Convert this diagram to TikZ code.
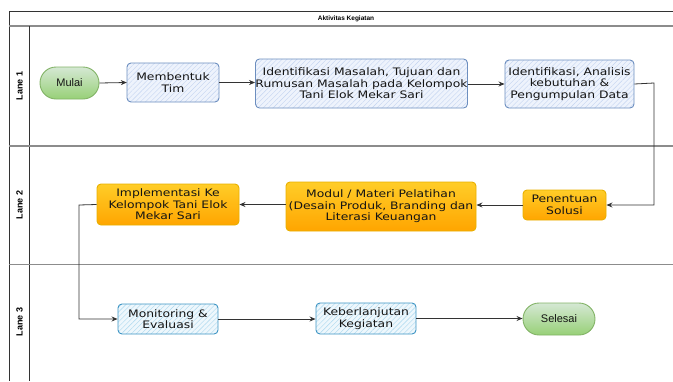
\documentclass[tikz,border=0pt]{standalone}
\usepackage{fontspec}
\setmainfont{DejaVu Sans}
\newfontfamily\nodefont[FakeStretch=1.2]{DejaVu Sans}
\newfontfamily\arialfont{Liberation Sans}
\usetikzlibrary{arrows.meta,patterns.meta,shapes.misc}
\definecolor{frame}{HTML}{333333}
\definecolor{lanegray}{HTML}{8C8C8C}
\definecolor{blueB}{HTML}{6C8EBF}
\definecolor{blueF}{HTML}{EEF3FC}
\definecolor{blueH}{HTML}{C3D4F0}
\definecolor{cyanB}{HTML}{3E95C4}
\definecolor{cyanF}{HTML}{EEF7FC}
\definecolor{cyanH}{HTML}{A9D7EF}
\definecolor{orgB}{HTML}{E8B000}
\definecolor{orgT}{HTML}{FFCD28}
\definecolor{orgD}{HTML}{FFA500}
\definecolor{grnB}{HTML}{82B366}
\definecolor{grnT}{HTML}{D5E8D4}
\definecolor{grnD}{HTML}{97D077}
\definecolor{txt}{HTML}{141414}
\tikzset{
  base/.style={align=center, inner sep=0pt, text=txt, font=\nodefont\fontsize{10.3}{11.4}\selectfont, line width=0.9pt},
  bluebox/.style={base, draw=blueB, rounded corners=4pt,
    preaction={fill=blueF},
    pattern={Lines[angle=45,distance=3.5pt,line width=0.4pt]}, pattern color=blueH},
  cyanbox/.style={base, draw=cyanB, rounded corners=4pt,
    preaction={fill=cyanF},
    pattern={Lines[angle=45,distance=3.5pt,line width=0.4pt]}, pattern color=cyanH},
  orgbox/.style={base, draw=orgB, rounded corners=4pt, top color=orgT, bottom color=orgD},
  grnbox/.style={base, draw=grnB, rounded rectangle, top color=grnT, bottom color=grnD,
    font=\arialfont\fontsize{11}{12}\selectfont},
  flow/.style={draw=frame, line width=0.8pt, -{Stealth[length=6pt,width=5pt]}},
  lanelabel/.style={font=\arialfont\bfseries\fontsize{9}{10}\selectfont, rotate=90, inner sep=0pt}
}
\begin{document}
\begin{tikzpicture}[x=1pt,y=-1pt]
\useasboundingbox (0,0) rectangle (673,381);
% frame
\draw[frame, line width=0.9pt] (673,11.5) -- (9,11.5) -- (9,381);
\draw[lanegray, line width=1.4pt] (9,26) -- (673,26);
\draw[frame, line width=0.9pt] (29,26) -- (29,381);
\draw[lanegray, line width=1.2pt] (9,146) -- (673,146);
\draw[lanegray, line width=1.2pt] (9,264.5) -- (673,264.5);
\node[font=\arialfont\bfseries\fontsize{6.5}{8}\selectfont, inner sep=0pt] (title) at (346,18.5) {Aktivitas Kegiatan};
\node[lanelabel] (l1) at (19.5,86) {Lane 1};
\node[lanelabel] (l2) at (19.5,205) {Lane 2};
\node[lanelabel] (l3) at (19.5,322) {Lane 3};
% lane 1
\node[grnbox, minimum width=59pt, minimum height=32pt] (mulai) at (69.5,83) {Mulai};
\node[bluebox, minimum width=92pt, minimum height=39pt] (tim) at (173,82.5) {Membentuk\\Tim};
\node[bluebox, minimum width=209pt, minimum height=49pt] (idm) at (361.5,83.5) {Identifikasi Masalah, Tujuan dan\\Rumusan Masalah pada Kelompok\\Tani Elok Mekar Sari};
\node[bluebox, minimum width=129pt, minimum height=48pt] (ida) at (569.5,84) {Identifikasi, Analisis\\kebutuhan \&\\Pengumpulan Data};
% lane 2
\node[orgbox, minimum width=83pt, minimum height=30pt] (pen) at (564.5,205) {Penentuan\\Solusi};
\node[orgbox, minimum width=190pt, minimum height=49pt] (mod) at (381,206.5) {Modul / Materi Pelatihan\\(Desain Produk, Branding dan\\Literasi Keuangan};
\node[orgbox, minimum width=142pt, minimum height=41pt] (imp) at (168,204.5) {Implementasi Ke\\Kelompok Tani Elok\\Mekar Sari};
% lane 3
\node[cyanbox, minimum width=100pt, minimum height=30pt] (mon) at (168,319) {Monitoring \&\\Evaluasi};
\node[cyanbox, minimum width=100pt, minimum height=31pt] (keb) at (366,318.5) {Keberlanjutan\\Kegiatan};
\node[grnbox, minimum width=72pt, minimum height=32pt] (sel) at (559,319) {Selesai};
% connectors
\coordinate (c1) at (654,83);
\coordinate (c2) at (79,205);
\draw[flow] (mulai.east) -- (tim.west);
\draw[flow] (tim.east) -- (tim.east -| idm.west);
\draw[flow] (idm.east |- ida.west) -- (ida.west);
\draw[flow] (ida.east) -- (c1) |- (pen.east);
\draw[flow] (pen.west) -- (pen.west -| mod.east);
\draw[flow] (mod.west |- imp.east) -- (imp.east);
\draw[flow] (imp.west) -- (c2) |- (mon.west);
\draw[flow] (mon.east) -- (mon.east -| keb.west);
\draw[flow] (keb.east) -- (keb.east -| sel.west);
\end{tikzpicture}
\end{document}
